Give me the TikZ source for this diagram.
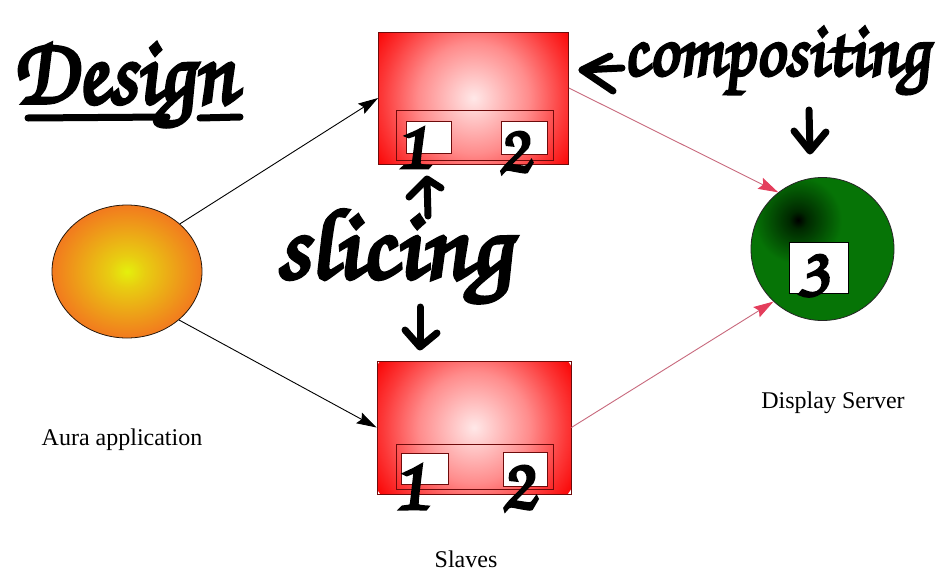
\documentclass[tikz,border=0pt]{standalone}
\usepackage{fontspec}
\usepackage{graphicx}
\setmainfont{Liberation Serif}
\newfontfamily\hand[FakeBold=4,FakeSlant=-0.12]{TeX Gyre Chorus}
\usetikzlibrary{arrows.meta,shapes.geometric}

% colours
\definecolor{boxcore}{RGB}{255,232,232}
\definecolor{boxpink}{RGB}{255,140,140}
\definecolor{boxmid}{RGB}{252,55,55}
\definecolor{boxred}{RGB}{250,8,8}
\definecolor{boxedge}{RGB}{110,10,10}
\definecolor{auracore}{RGB}{228,240,12}
\definecolor{auraouter}{RGB}{242,122,30}
\definecolor{dsgreen}{RGB}{6,116,6}
\definecolor{dsdark}{RGB}{0,40,0}
\definecolor{redline}{RGB}{200,105,125}
\definecolor{redhead}{RGB}{228,62,92}

% glows
\pgfdeclareradialshading{boxglow}{\pgfpoint{0bp}{0bp}}{%
  color(0bp)=(boxcore); color(12bp)=(boxpink); color(20bp)=(boxmid);
  color(25bp)=(boxred); color(50bp)=(boxred)}
\pgfdeclareradialshading{auraglow}{\pgfpoint{0bp}{0bp}}{%
  color(0bp)=(auracore); color(6bp)=(auracore!70!auraouter);
  color(25bp)=(auraouter); color(50bp)=(auraouter)}
\pgfdeclareradialshading{dsglow}{\pgfpoint{0bp}{0bp}}{%
  color(0bp)=(black); color(2bp)=(dsdark); color(10bp)=(dsgreen);
  color(50bp)=(dsgreen)}

\tikzset{
  slavebox/.style={draw=boxedge, line width=0.8pt, inner sep=0pt,
    minimum width=190pt, minimum height=132pt,
    path picture={\shade[shading=boxglow] (path picture bounding box.center) circle (115pt);}},
  slicearea/.style={draw=boxedge, line width=0.8pt, inner sep=0pt,
    minimum width=157pt},
  tile/.style={draw=boxedge, fill=white, line width=0.8pt, inner sep=0pt},
  aurablob/.style={ellipse, draw=black!80!brown, line width=0.8pt,
    minimum width=150pt, minimum height=133pt, shade, shading=auraglow},
  serverblob/.style={circle, draw=black!85, line width=0.8pt,
    minimum size=143pt, inner sep=0pt,
    path picture={\shade[shading=dsglow]
      ([xshift=-24.5pt,yshift=29pt]path picture bounding box.center) circle (110pt);}},
  caption/.style={font=\fontsize{24}{28}\selectfont, anchor=base, inner sep=0pt},
  feed/.style={line width=0.9pt, -{Stealth[length=20pt,width=12pt,inset=3pt]}},
  merge/.style={draw=redline, line width=0.9pt,
    -{Stealth[length=20pt,width=12pt,inset=3pt,color=redhead,fill=redhead]}},
  ink/.style={line width=7pt, line cap=round, line join=round},
  scrawl/.style={inner sep=0pt, anchor=base west},
}

\begin{document}
\begin{tikzpicture}[x=1pt,y=-1pt]
\useasboundingbox (0,0) rectangle (937,576);
\fill[white] (0,0) rectangle (937,576);

% application
\node[aurablob] (aura) at (127,271.5) {};
\node[caption] (auralabel) at (122,445) {Aura application};

% slaves
\node[slavebox] (top) at (473.5,98) {};
\node[slicearea, minimum height=50pt] (topslice) at (474.5,135) {};
\node[tile, minimum width=45pt, minimum height=32pt] (topA) at (428.5,137) {};
\node[tile, minimum width=46pt, minimum height=33pt] (topB) at (524,137.5) {};

\node[slavebox, minimum width=194pt, minimum height=133pt] (bot) at (474,427.5) {};
\node[slicearea, minimum height=45pt] (botslice) at (474.5,466.5) {};
\node[tile, minimum width=47pt, minimum height=31pt] (botA) at (424.5,468.5) {};
\node[tile, minimum width=44pt, minimum height=34pt] (botB) at (525,469) {};
\node[caption] (slaveslabel) at (466,567) {Slaves};

% display server
\node[serverblob] (ds) at (822.5,249) {};
\node[tile, draw=black, minimum width=59pt, minimum height=51pt] (dsA) at (818.5,267.5) {};
\node[caption] (dslabel) at (833,408) {Display Server};

% connectors
\draw[feed] (aura.42) -- (top.west);
\draw[feed] (aura.-43) -- (bot.west);
\draw[merge] ([yshift=10pt]top.east) -- (ds.128);
\draw[merge] (bot.east) -- (ds.-133);

% handwritten notes
\node[scrawl] (design) at (15,103) {\resizebox{222pt}{60pt}{\hand Design}};
\draw[ink] (28,118) -- (167,117);
\draw[ink] (200,118) -- (240,117);

\node[scrawl] (compositing) at (624,75) {\resizebox{306pt}{48pt}{\hand compositing}};
\draw[ink] (622,68) -- (582,70);
\draw[ink] (610,56) -- (582,70) -- (613,91);
\draw[ink] (809,110) -- (810,150);
\draw[ink] (794,131) -- (810,151) -- (826,132);

\node[scrawl] (slicing) at (277,278) {\resizebox{236pt}{68pt}{\hand slicing}};
\draw[ink] (428,216) -- (427,180);
\draw[ink] (409,197) -- (427,179) -- (441,188);
\draw[ink] (420,307) -- (420,346);
\draw[ink] (405,330) -- (420,347) -- (437,333);

\node[scrawl] (n1a) at (396,168) {\resizebox{34pt}{40pt}{\hand 1}};
\node[scrawl] (n2a) at (498,172) {\resizebox{33pt}{40pt}{\hand 2}};
\node[scrawl] (n1b) at (394,509) {\resizebox{34pt}{44pt}{\hand 1}};
\node[scrawl] (n2b) at (501,509) {\resizebox{35pt}{43pt}{\hand 2}};
\node[scrawl] (n3) at (797,296) {\resizebox{33pt}{41pt}{\hand 3}};
\end{tikzpicture}
\end{document}
